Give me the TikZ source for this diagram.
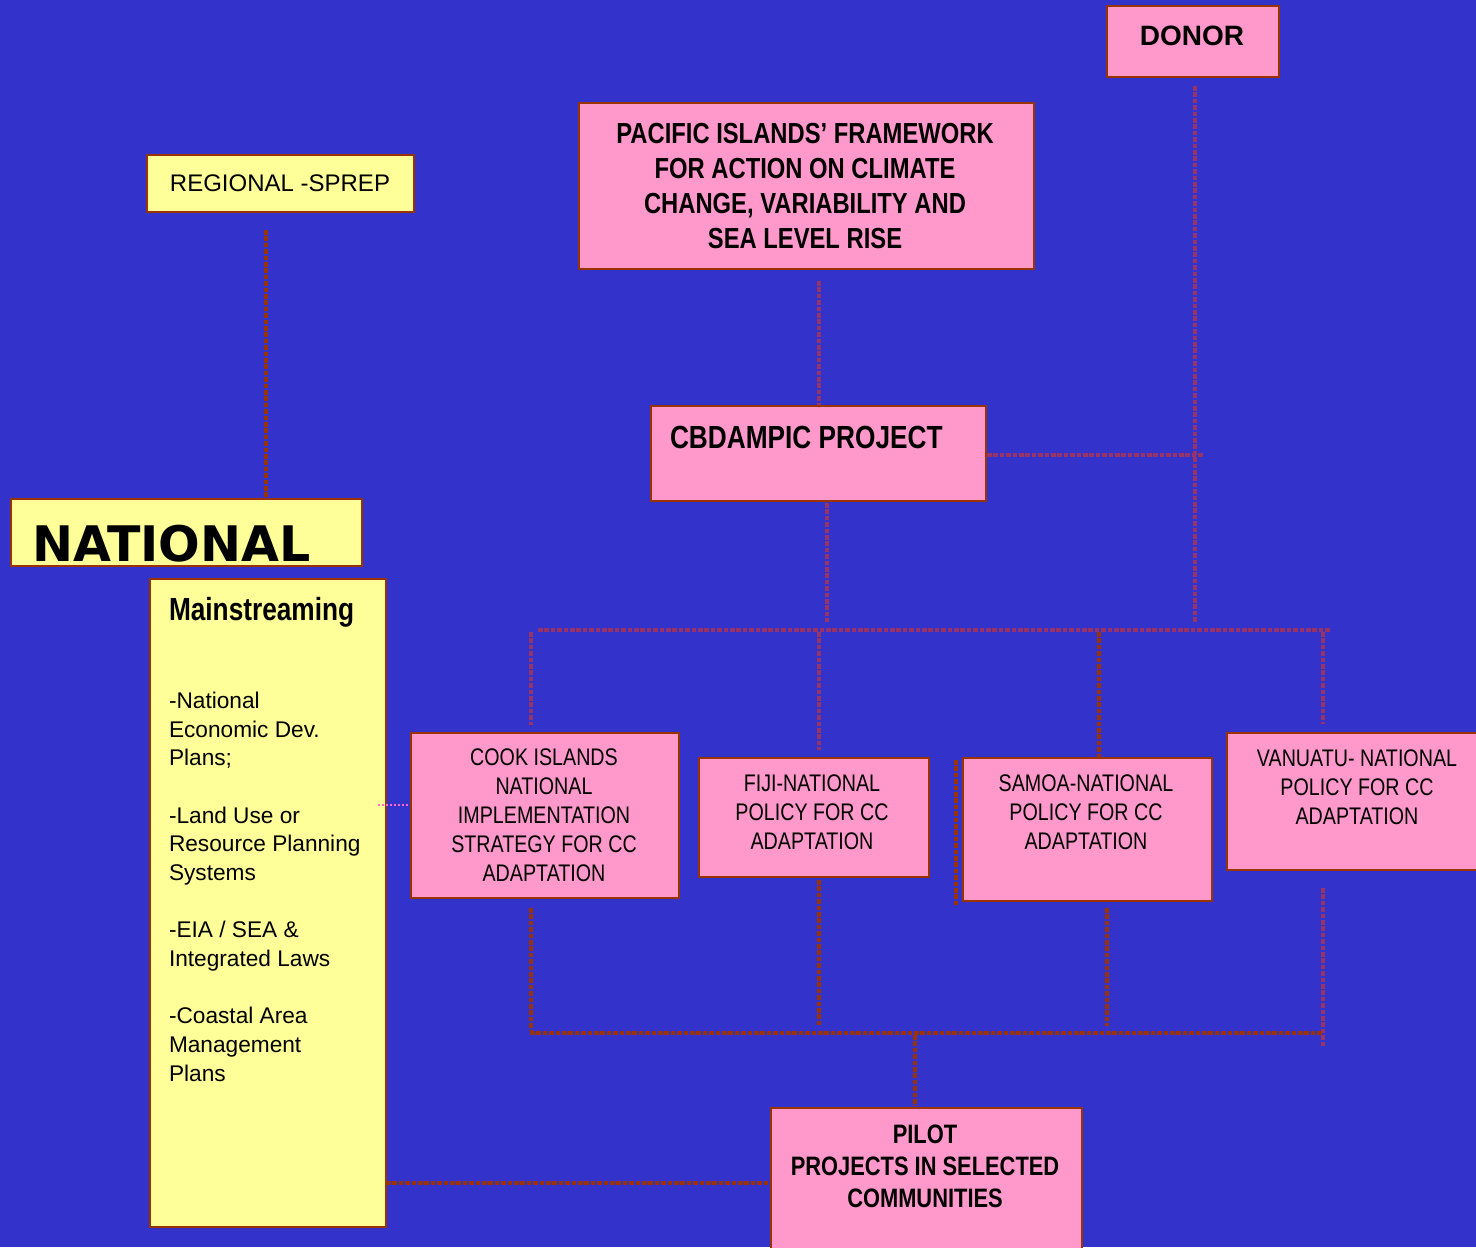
\documentclass[tikz,border=0pt]{standalone}
\usepackage{fontspec}
\setmainfont{Liberation Sans}
\newfontfamily\narrowfont[FakeStretch=0.82]{Liberation Sans}
\newfontfamily\dejavu{DejaVu Sans}
\definecolor{bg}{HTML}{3333CC}
\definecolor{pinkfill}{HTML}{FF99CC}
\definecolor{yellowfill}{HTML}{FFFF99}
\definecolor{brownline}{HTML}{993300}
\definecolor{purpline}{HTML}{993366}
\definecolor{dotpink}{HTML}{FF66CC}
\def\pxu{0.75pt}
\tikzset{
  box/.style={draw=brownline, line width=1.5pt, inner sep=0pt, outer sep=0pt, anchor=north west},
  pinkbox/.style={box, fill=pinkfill},
  yelbox/.style={box, fill=yellowfill},
  txt/.style={inner sep=0pt, outer sep=0pt, text=black},
  conn/.style={line width=2.6pt, dash pattern=on 3.4pt off 1.4pt},
  pconn/.style={conn, draw=purpline},
  bconn/.style={conn, draw=brownline},
  narrowtext/.style={txt, align=center, font=\narrowfont\fontsize{18}{21.75}\selectfont},
}
\begin{document}
\begin{tikzpicture}[x=0.75pt, y=-0.75pt]
\useasboundingbox (0,0) rectangle (1476,1247);
\clip (0,0) rectangle (1476,1247);
\fill[bg] (0,0) rectangle (1476,1247);

% boxes
\node[pinkbox, minimum width=172*\pxu, minimum height=71*\pxu] (donor) at (1107,6) {};
\node[pinkbox, minimum width=455*\pxu, minimum height=166*\pxu] (pacific) at (579,103) {};
\node[yelbox, minimum width=267*\pxu, minimum height=57*\pxu] (regional) at (147,155) {};
\node[pinkbox, minimum width=335*\pxu, minimum height=95*\pxu] (cbd) at (651,406) {};
\node[yelbox, minimum width=351*\pxu, minimum height=67*\pxu] (national) at (11,499) {};
\node[yelbox, minimum width=236*\pxu, minimum height=648*\pxu] (main) at (150,579) {};
\node[pinkbox, minimum width=268*\pxu, minimum height=165*\pxu] (cook) at (411,733) {};
\node[pinkbox, minimum width=230*\pxu, minimum height=119*\pxu] (fiji) at (699,758) {};
\node[pinkbox, minimum width=249*\pxu, minimum height=143*\pxu] (samoa) at (963,758) {};
\node[pinkbox, minimum width=260*\pxu, minimum height=137*\pxu] (vanuatu) at (1227,733) {};
\node[pinkbox, minimum width=311*\pxu, minimum height=150*\pxu] (pilot) at (771,1108) {};

% texts
\node[txt, font=\bfseries\fontsize{21}{25}\selectfont] (donor-t) at (1192,36) {DONOR};
\node[txt, align=center, font=\narrowfont\bfseries\fontsize{21.75}{26.25}\selectfont] (pacific-t) at (805,186.5)
  {PACIFIC ISLANDS’ FRAMEWORK\\FOR ACTION ON CLIMATE\\CHANGE, VARIABILITY AND\\SEA LEVEL RISE};
\node[txt, font=\fontsize{18}{21.75}\selectfont] (regional-t) at (280,183) {REGIONAL -SPREP};
\node[txt, anchor=west, font=\narrowfont\bfseries\fontsize{24}{28}\selectfont] (cbd-t) at (670,437) {CBDAMPIC PROJECT};
\node[txt, anchor=west, font=\dejavu\bfseries\fontsize{36.75}{44}\selectfont] (national-t) at (32,544) {NATIONAL};
\node[txt, anchor=base west, font=\narrowfont\bfseries\fontsize{24}{28}\selectfont] (main-t) at (169,620) {Mainstreaming};
\node[txt, anchor=north west, align=left, font=\fontsize{17}{21.5}\selectfont] (main-list) at (169,692)
  {-National\\Economic Dev.\\Plans;\\[21.5pt]-Land Use or\\Resource Planning\\Systems\\[21.5pt]-EIA / SEA \&\\Integrated Laws\\[21.5pt]-Coastal Area\\Management\\Plans};
\node[narrowtext] (cook-t) at (544,815) {COOK ISLANDS\\NATIONAL\\IMPLEMENTATION\\STRATEGY FOR CC\\ADAPTATION};
\node[narrowtext] (fiji-t) at (812,812.5) {FIJI-NATIONAL\\POLICY FOR CC\\ADAPTATION};
\node[narrowtext] (samoa-t) at (1086,812.5) {SAMOA-NATIONAL\\POLICY FOR CC\\ADAPTATION};
\node[narrowtext] (vanuatu-t) at (1357,787) {VANUATU- NATIONAL\\POLICY FOR CC\\ADAPTATION};
\node[txt, align=center, font=\narrowfont\bfseries\fontsize{20}{24}\selectfont] (pilot-t) at (925,1166.5)
  {PILOT\\PROJECTS IN SELECTED\\COMMUNITIES};

% connector end points
\coordinate (regA) at (266,230);   \coordinate (regB) at (266,497);
\coordinate (pacA) at (819,281);   \coordinate (pacB) at (819,405);
\coordinate (donA) at (1195,86);   \coordinate (donB) at (1195,622);
\coordinate (cbdR) at (987,455);   \coordinate (cbdRE) at (1203,455);
\coordinate (cbdD) at (827,503);   \coordinate (cbdDE) at (827,622);
\coordinate (busL) at (538,630);   \coordinate (busR) at (1330,630);
\coordinate (c1a) at (531,632);    \coordinate (c1b) at (531,725);
\coordinate (f1a) at (819,632);    \coordinate (f1b) at (819,750);
\coordinate (s1a) at (1099,632);   \coordinate (s1b) at (1099,758);
\coordinate (v1a) at (1323,632);   \coordinate (v1b) at (1323,724);
\coordinate (c2a) at (531,908);    \coordinate (c2b) at (531,1030);
\coordinate (f2a) at (819,880);    \coordinate (f2b) at (819,1026);
\coordinate (s2a) at (1107,908);   \coordinate (s2b) at (1107,1026);
\coordinate (v2a) at (1323,888);   \coordinate (v2b) at (1323,1046);
\coordinate (bbL) at (530,1033);   \coordinate (bbR) at (1323,1033);
\coordinate (plA) at (915,1035);   \coordinate (plB) at (915,1106);
\coordinate (mpA) at (386,1183);   \coordinate (mpB) at (769,1183);
\coordinate (smA) at (956,760);    \coordinate (smB) at (956,905);
\coordinate (dtA) at (378,805);    \coordinate (dtB) at (410,805);

% purple connectors
\draw[pconn] (pacA) -- (pacB);
\draw[pconn] (donA) -- (donB);
\draw[pconn] (cbdR) -- (cbdRE);
\draw[pconn] (cbdD) -- (cbdDE);
\draw[pconn] (busL) -- (busR);
\draw[pconn] (c1a) -- (c1b);
\draw[pconn] (f1a) -- (f1b);
\draw[pconn] (v1a) -- (v1b);
\draw[pconn] (v2a) -- (v2b);
% brown connectors
\draw[bconn] (regA) -- (regB);
\draw[bconn] (s1a) -- (s1b);
\draw[bconn] (c2a) -- (c2b);
\draw[bconn] (f2a) -- (f2b);
\draw[bconn] (s2a) -- (s2b);
\draw[bconn] (bbL) -- (bbR);
\draw[bconn] (plA) -- (plB);
\draw[bconn] (mpA) -- (mpB);
\draw[bconn] (smA) -- (smB);
% dotted pink
\draw[draw=dotpink, line width=0.9pt, dash pattern=on 1.5pt off 1.5pt] (dtA) -- (dtB);
\end{tikzpicture}
\end{document}
